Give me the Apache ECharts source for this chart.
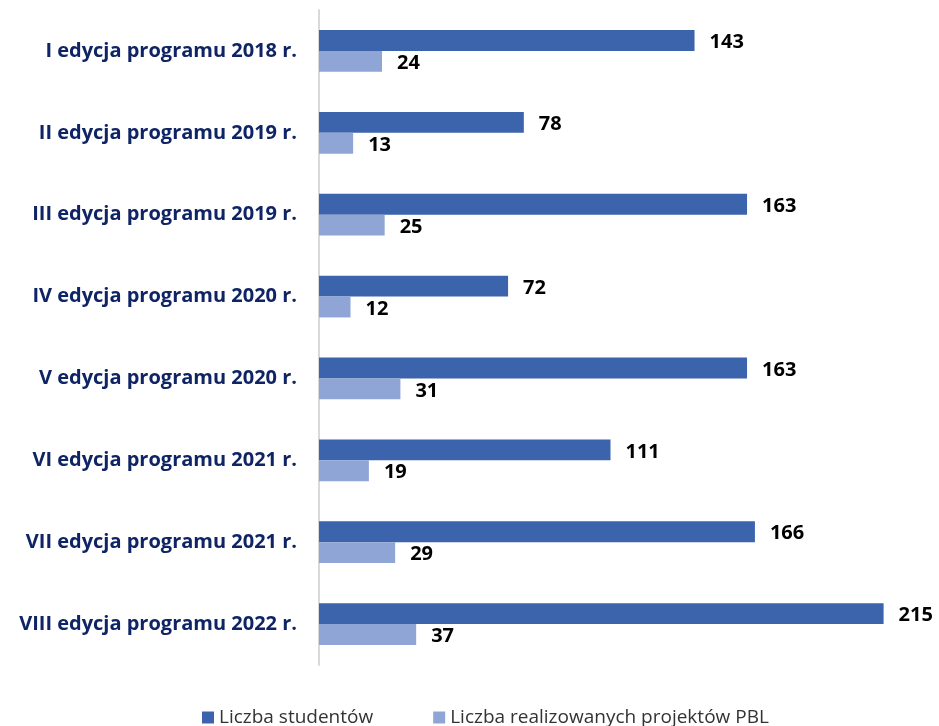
<!DOCTYPE html>
<html>
<head>
<meta charset="utf-8">
<script src="https://cdn.jsdelivr.net/npm/echarts@6/dist/echarts.min.js"></script>
<style>
  html, body { margin: 0; padding: 0; background: #fff; }
  #chart { width: 939px; height: 726px; }
</style>
</head>
<body>
<div id="chart"></div>
<script>
var categories = [
  'I edycja programu 2018 r.',
  'II edycja programu 2019 r.',
  'III edycja programu 2019 r.',
  'IV edycja programu 2020 r.',
  'V edycja programu 2020 r.',
  'VI edycja programu 2021 r.',
  'VII edycja programu 2021 r.',
  'VIII edycja programu 2022 r.'
];
var studenci = [143, 78, 163, 72, 163, 111, 166, 215];
var projekty = [24, 13, 25, 12, 31, 19, 29, 37];

var chart = echarts.init(document.getElementById('chart'));

var valueLabel = {
  show: true,
  position: 'right',
  distance: 15,
  offset: [0, 2],
  color: '#000',
  fontWeight: 'bold',
  fontSize: 20,
  fontFamily: 'Open Sans'
};

chart.setOption({
  animation: false,
  grid: { left: 319, right: 16, top: 10, bottom: 61 },
  legend: {
    top: 703,
    left: 197,
    itemWidth: 12,
    itemHeight: 12,
    itemGap: 60,
    icon: 'rect',
    textStyle: { fontSize: 19, color: '#333333', fontFamily: 'Open Sans' },
    data: ['Liczba studentów', 'Liczba realizowanych projektów PBL']
  },
  xAxis: {
    type: 'value',
    min: 0,
    max: 230,
    show: false,
    splitLine: { show: false }
  },
  yAxis: {
    type: 'category',
    inverse: true,
    data: categories,
    axisLine: { show: true, lineStyle: { color: '#D9D9D9', width: 2 } },
    axisTick: { show: false },
    axisLabel: {
      margin: 22,
      color: '#0F2465',
      fontWeight: 'bold',
      fontSize: 20,
      fontFamily: 'Open Sans'
    }
  },
  series: [
    {
      name: 'Liczba studentów',
      type: 'bar',
      data: studenci,
      barGap: '0%',
      barCategoryGap: '49%',
      itemStyle: { color: '#3C64AC' },
      label: valueLabel
    },
    {
      name: 'Liczba realizowanych projektów PBL',
      type: 'bar',
      data: projekty,
      itemStyle: { color: '#8FA5D6' },
      label: valueLabel
    }
  ]
});
</script>
</body>
</html>
